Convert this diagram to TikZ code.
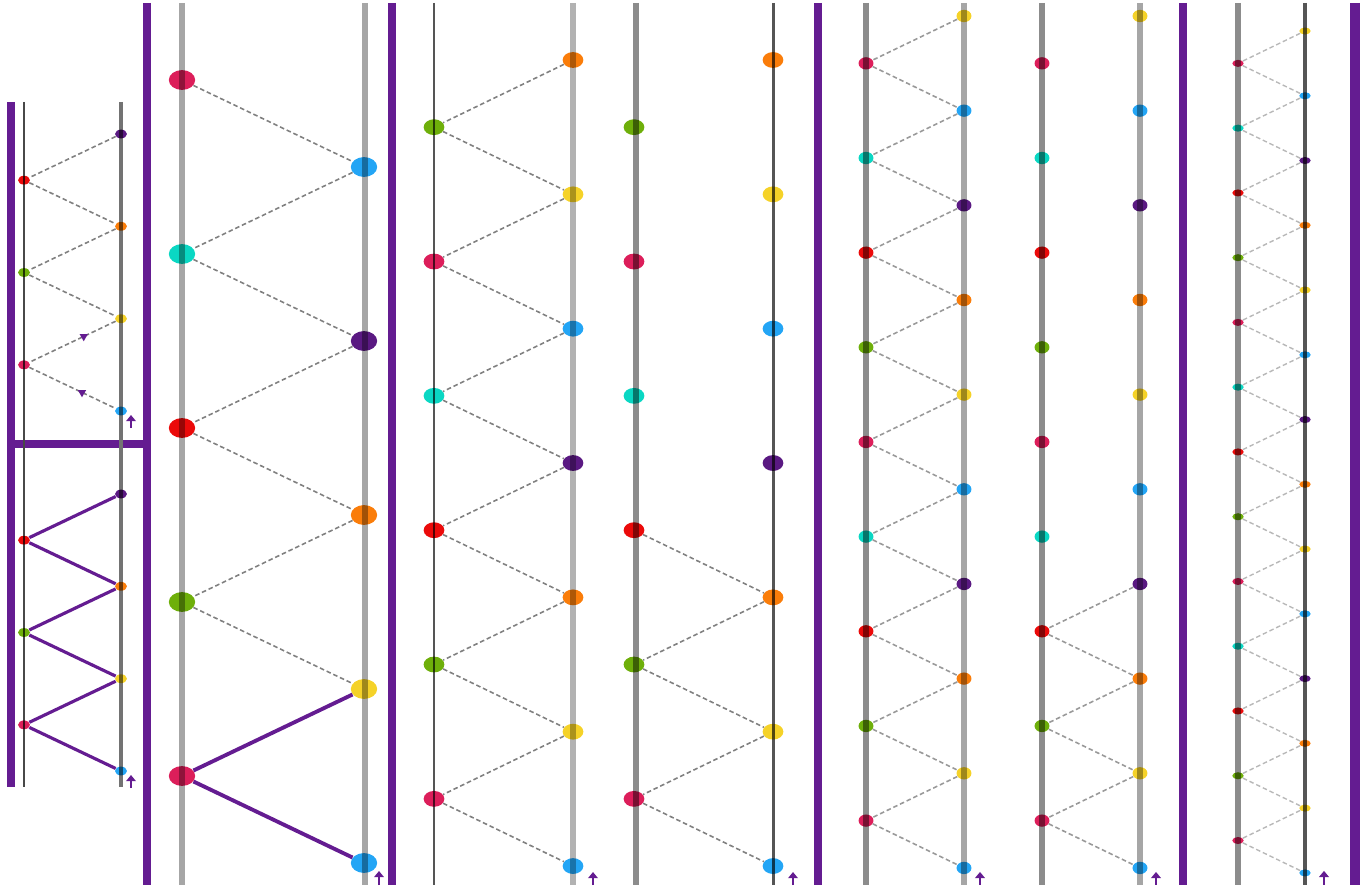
\documentclass[tikz,border=0pt]{standalone}
\usepackage{tikz}
\usepackage{xcolor}
\usetikzlibrary{arrows.meta,shapes.geometric,calc}
\definecolor{barpurple}{RGB}{100,28,145}
\definecolor{dcrimson}{RGB}{220,30,90}
\definecolor{dturq}{RGB}{10,215,195}
\definecolor{dred}{RGB}{235,10,10}
\definecolor{dgreen}{RGB}{110,175,10}
\definecolor{dorange}{RGB}{250,125,10}
\definecolor{dyellow}{RGB}{245,210,40}
\definecolor{dblue}{RGB}{35,165,245}
\definecolor{dpurple}{RGB}{90,25,130}
\definecolor{railgray}{RGB}{166,166,166}
\definecolor{raildark}{RGB}{85,85,85}
\tikzset{
  dot/.style={ellipse,inner sep=0pt,blend mode=multiply},
  link/.style={draw=black!50,line width=0.9pt,dash pattern=on 2.6pt off 1.6pt},
  hop/.style={draw=barpurple,line width=1.8pt},
  rail/.style={draw=railgray,line width=3.4pt},
  thinrail/.style={draw=raildark,line width=1.7pt},
  wall/.style={draw=barpurple,line width=5pt},
  uparrow/.style={draw=barpurple,line width=1.5pt,-{Triangle[width=5.5pt,length=3.5pt]}},
  tick/.style={regular polygon,regular polygon sides=3,shape border rotate=180,fill=barpurple,inner sep=0pt,minimum size=5.5pt}
}

\begin{document}
\begin{tikzpicture}[x=0.02cm,y=-0.02cm]
\useasboundingbox (0,0) rectangle (1372,888);
\begin{scope}[dot/.append style={minimum width=6.8pt,minimum height=5pt}]
\draw[wall] (11,102) -- (11,787);
\draw[wall] (11,444) -- (147,444);
\draw[wall] (147,3) -- (147,885);
\draw[draw=raildark!85!black,line width=1.6pt] (24,102) -- (24,787);
\draw[draw=black!55,line width=2.2pt] (121,102) -- (121,787);
\foreach \c [count=\i] in {dpurple,dred,dorange,dgreen,dyellow,dcrimson,dblue}{
  \pgfmathsetmacro\px{isodd(\i) ? 121 : 24}
  \node[dot,fill=\c] (a\i) at (\px,{134+(\i-1)*46.17}) {};
  \node[dot,fill=\c] (b\i) at (\px,{494+(\i-1)*46.17}) {};
}
\foreach \i [remember=\i as \j (initially 1)] in {2,...,7}{
  \draw[link] (a\j) -- (a\i);
  \draw[hop] (b\j) -- (b\i);
}
\path (a5) -- (a6) node[tick,pos=0.37] (t1) {};
\path (a6) -- (a7) node[tick,pos=0.61] (t2) {};
\draw[uparrow] ($(a7)+(10,17)$) -- ++(0,-13);
\draw[uparrow] ($(b7)+(10,17)$) -- ++(0,-13);
\end{scope}
\begin{scope}[dot/.append style={minimum width=15pt,minimum height=11.3pt}]
\draw[rail] (182,3) -- (182,885);
\draw[rail] (365,3) -- (365,885);
\draw[wall] (392,3) -- (392,885);
\foreach \c [count=\i] in {dcrimson,dblue,dturq,dpurple,dred,dorange,dgreen,dyellow,dcrimson,dblue}{
  \pgfmathsetmacro\px{isodd(\i) ? 182 : 364}
  \node[dot,fill=\c] (c\i) at (\px,{80+(\i-1)*87}) {};
}
\foreach \i [remember=\i as \j (initially 1)] in {2,...,8}
  \draw[link] (c\j) -- (c\i);
\draw[hop,line width=2.2pt] (c8) -- (c9) -- (c10);
\draw[uparrow] ($(c10)+(15,22)$) -- ++(0,-14);
\end{scope}
\begin{scope}[dot/.append style={minimum width=11.8pt,minimum height=9pt}]
\draw[thinrail] (434,3) -- (434,885);
\draw[rail,draw=black!30,line width=3.8pt] (573,3) -- (573,885);
\draw[rail,draw=black!45,line width=3pt] (636,3) -- (636,885);
\draw[thinrail] (773,3) -- (773,885);
\draw[wall] (818,3) -- (818,885);
\foreach \c [count=\i] in {dorange,dgreen,dyellow,dcrimson,dblue,dturq,dpurple,dred,dorange,dgreen,dyellow,dcrimson,dblue}{
  \pgfmathsetmacro\px{isodd(\i) ? 573 : 434}
  \pgfmathsetmacro\qx{isodd(\i) ? 773 : 634}
  \node[dot,fill=\c] (d\i) at (\px,{60+(\i-1)*67.17}) {};
  \node[dot,fill=\c] (e\i) at (\qx,{60+(\i-1)*67.17}) {};
}
\foreach \i [remember=\i as \j (initially 1)] in {2,...,13}
  \draw[link] (d\j) -- (d\i);
\foreach \i [remember=\i as \j (initially 8)] in {9,...,13}
  \draw[link] (e\j) -- (e\i);
\draw[uparrow] ($(d13)+(20,19)$) -- ++(0,-13);
\draw[uparrow] ($(e13)+(20,19)$) -- ++(0,-13);
\end{scope}
\begin{scope}[dot/.append style={minimum width=8.5pt,minimum height=7pt},link/.append style={draw=black!40}]
\draw[rail,draw=black!45] (866,3) -- (866,885);
\draw[rail] (964,3) -- (964,885);
\draw[rail,draw=black!45] (1042,3) -- (1042,885);
\draw[rail] (1140,3) -- (1140,885);
\draw[wall] (1183,3) -- (1183,885);
\foreach \c [count=\i] in {dyellow,dcrimson,dblue,dturq,dpurple,dred,dorange,dgreen,dyellow,dcrimson,dblue,dturq,dpurple,dred,dorange,dgreen,dyellow,dcrimson,dblue}{
  \pgfmathsetmacro\px{isodd(\i) ? 964 : 866}
  \pgfmathsetmacro\qx{isodd(\i) ? 1140 : 1042}
  \node[dot,fill=\c] (f\i) at (\px,{16+(\i-1)*47.33}) {};
  \node[dot,fill=\c] (g\i) at (\qx,{16+(\i-1)*47.33}) {};
}
\foreach \i [remember=\i as \j (initially 1)] in {2,...,19}
  \draw[link] (f\j) -- (f\i);
\foreach \i [remember=\i as \j (initially 13)] in {14,...,19}
  \draw[link] (g\j) -- (g\i);
\draw[uparrow] ($(f19)+(16,17)$) -- ++(0,-13);
\draw[uparrow] ($(g19)+(16,17)$) -- ++(0,-13);
\end{scope}
\begin{scope}[dot/.append style={minimum width=6.5pt,minimum height=4pt},link/.append style={draw=black!28,line width=0.8pt}]
\draw[rail,draw=black!45,line width=3pt] (1238,3) -- (1238,885);
\draw[thinrail,line width=2.4pt] (1305,3) -- (1305,885);
\draw[wall,line width=5.5pt] (1355,3) -- (1355,885);
\foreach \c [count=\i] in {dyellow,dcrimson,dblue,dturq,dpurple,dred,dorange,dgreen,dyellow,dcrimson,dblue,dturq,dpurple,dred,dorange,dgreen,dyellow,dcrimson,dblue,dturq,dpurple,dred,dorange,dgreen,dyellow,dcrimson,dblue}{
  \pgfmathsetmacro\px{isodd(\i) ? 1305 : 1238}
  \node[dot,fill=\c] (h\i) at (\px,{31+(\i-1)*32.38}) {};
}
\foreach \i [remember=\i as \j (initially 1)] in {2,...,27}
  \draw[link] (h\j) -- (h\i);
\draw[uparrow] ($(h27)+(19,12)$) -- ++(0,-14);
\end{scope}
\end{tikzpicture}
\end{document}
